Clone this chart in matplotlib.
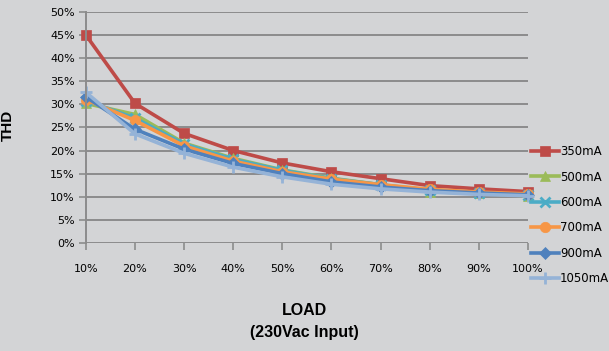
import matplotlib.pyplot as plt
from matplotlib.ticker import FuncFormatter

loads = ["10%", "20%", "30%", "40%", "50%", "60%", "70%", "80%", "90%", "100%"]

thd_350 = [45.0, 30.2, 23.7, 20.0, 17.3, 15.4, 13.9, 12.4, 11.7, 11.1]
thd_500 = [30.2, 27.8, 21.6, 18.3, 15.8, 14.0, 12.6, 11.1, 10.7, 10.2]
thd_600 = [30.8, 27.0, 21.4, 18.1, 15.7, 13.9, 12.6, 11.4, 10.9, 10.4]
thd_700 = [31.0, 26.5, 21.0, 17.7, 15.4, 13.8, 12.6, 11.6, 11.0, 10.6]
thd_900 = [31.6, 24.6, 20.3, 17.2, 15.0, 13.2, 12.1, 11.3, 10.8, 10.4]
thd_1050 = [32.6, 23.6, 19.4, 16.4, 14.3, 12.7, 11.7, 11.0, 10.5, 10.2]

series = [
    ("350mA", thd_350, "#be4b48", "s", 7.5),
    ("500mA", thd_500, "#9bbb59", "^", 7.5),
    ("600mA", thd_600, "#4bacc6", "x", 6.5),
    ("700mA", thd_700, "#f79646", "o", 7.5),
    ("900mA", thd_900, "#4f81bd", "D", 6.5),
    ("1050mA", thd_1050, "#95b3d7", "+", 9),
]

bg = "#d3d4d6"
bold_font = ["Liberation Sans Narrow", "Liberation Sans", "DejaVu Sans"]

fig = plt.figure(figsize=(6.09, 3.51), dpi=100, facecolor=bg)
ax = fig.add_axes([0.141, 0.308, 0.726, 0.658], facecolor=bg)

x = list(range(len(loads)))
for name, vals, color, marker, ms in series:
    ax.plot(x, vals, color=color, lw=2.6, marker=marker, markersize=ms,
            markeredgewidth=2 if marker in "x+" else 0.5,
            markeredgecolor=color, label=name, clip_on=False)

ax.set_xlim(0, len(loads) - 1)
ax.set_ylim(0, 50)
ax.set_yticks(range(0, 51, 5))
ax.yaxis.set_major_formatter(FuncFormatter(lambda v, p: f"{v:.0f}%"))
ax.set_xticks(x)
ax.set_xticklabels(loads)
ax.grid(axis="y", color="#8c8c8c", lw=1.4)
ax.set_axisbelow(True)

for side in ["top", "right", "bottom"]:
    ax.spines[side].set_visible(False)
ax.spines["left"].set_color("#8c8c8c")
ax.spines["left"].set_linewidth(1.4)
ax.tick_params(axis="y", length=5, color="#8c8c8c", width=1.2, labelsize=8, pad=3)
ax.tick_params(axis="x", length=5, color="#8c8c8c", width=1.2, labelsize=8, pad=10)

ax.set_ylabel("THD", fontsize=11, fontweight="bold", family=bold_font)
ax.yaxis.set_label_coords(-0.16, 0.51)
fig.text(0.5, 0.114, "LOAD", ha="center", va="center", fontsize=11.5,
         fontweight="bold", family=bold_font)
fig.text(0.5, 0.052, "(230Vac Input)", ha="center", va="center", fontsize=11.5,
         fontweight="bold", family=bold_font)

ax.legend(loc="center left", bbox_to_anchor=(0.995, 0.12), frameon=False,
          fontsize=8.5, handlelength=2.4, labelspacing=1.05, handletextpad=0.1,
          borderaxespad=0)

fig.savefig("out.png", dpi=100, facecolor=bg)
